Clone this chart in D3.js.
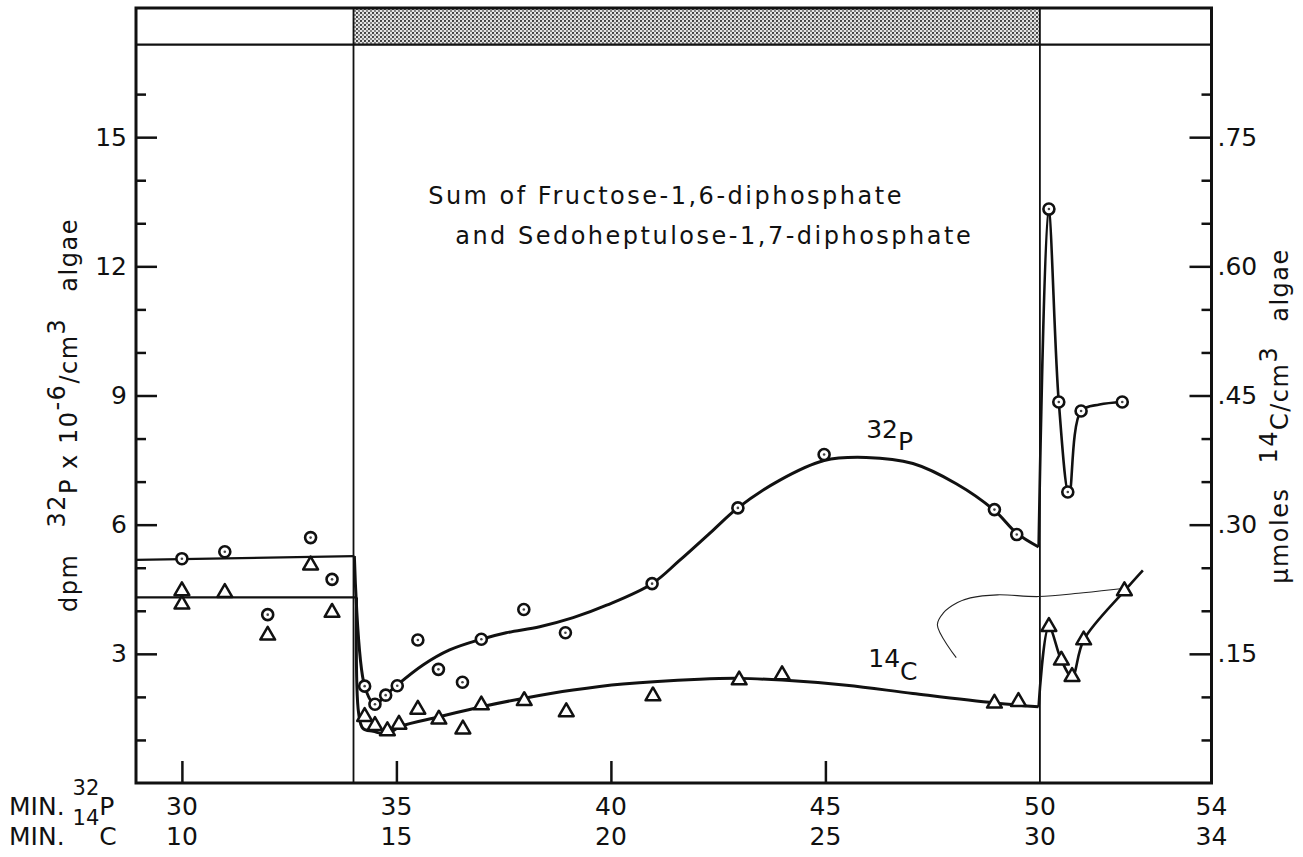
<!doctype html>
<html lang="en">
<head>
<meta charset="utf-8">
<title>Sum of Fructose-1,6-diphosphate and Sedoheptulose-1,7-diphosphate</title>
<script src="https://d3js.org/d3.v7.min.js"></script>
<style>
body { margin: 0; background: #fff; }
svg text { font-family: "DejaVu Sans", sans-serif; fill: #111; }
.tick line { stroke: #111; stroke-width: 2.5; }
.tick text { font-size: 25px; }
</style>
</head>
<body>
<div id="chart"></div>
<script>
// ---- data (time on the 32P clock, minutes) ----
var p32Time  = [30, 31, 32, 33, 33.5, 34.26, 34.5, 34.75, 35.02, 35.5, 35.98, 36.54, 36.98, 37.97, 38.94, 40.96, 42.96, 44.97, 48.94, 49.46, 50.21, 50.44, 50.65, 50.96, 51.92];
var p32Value = [5.21, 5.37, 3.91, 5.70, 4.73, 2.25, 1.83, 2.04, 2.26, 3.32, 2.64, 2.34, 3.34, 4.03, 3.49, 4.63, 6.39, 7.63, 6.35, 5.77, 13.33, 8.85, 6.76, 8.64, 8.85];

var c14Time  = [30, 30, 31, 32, 33, 33.5, 34.26, 34.5, 34.79, 35.06, 35.5, 35.99, 36.55, 36.98, 37.98, 38.96, 40.98, 42.99, 43.99, 48.94, 49.5, 50.21, 50.5, 50.75, 51.02, 51.97];
var c14Value = [4.46, 4.15, 4.42, 3.43, 5.06, 3.96, 1.54, 1.33, 1.21, 1.36, 1.71, 1.48, 1.25, 1.81, 1.91, 1.65, 2.02, 2.39, 2.51, 1.85, 1.89, 3.63, 2.85, 2.47, 3.32, 4.46];

// hand drawn fitted curves (knots)
var p32LightT = [28.93, 34.02];
var p32LightV = [5.18, 5.27];
var p32DarkT  = [34.02, 34.26, 34.5, 34.75, 35.0, 35.62, 36.24, 36.98, 37.56, 38.34, 39.12, 39.9, 40.96, 41.6, 42.38, 42.96, 43.93, 44.97, 45.95, 47.04, 48.05, 48.94, 49.46, 49.97];
var p32DarkV  = [5.27, 2.25, 1.83, 2.04, 2.26, 2.74, 3.09, 3.34, 3.49, 3.63, 3.84, 4.13, 4.63, 5.17, 5.87, 6.39, 7.03, 7.49, 7.56, 7.42, 6.95, 6.33, 5.8, 5.48];
var p32AfterT = [49.97, 50.2, 50.44, 50.68, 50.96, 51.39, 51.92];
var p32AfterV = [5.48, 13.33, 8.85, 6.7, 8.64, 8.79, 8.85];

var c14LightT = [28.93, 34.07];
var c14LightV = [4.31, 4.31];
var c14DarkT  = [34.07, 34.12, 34.22, 34.46, 34.79, 35.08, 36.01, 36.98, 37.98, 39.12, 40.28, 42.07, 42.99, 43.99, 45.49, 47.04, 48.94, 49.97];
var c14DarkV  = [4.31, 1.62, 1.27, 1.2, 1.14, 1.31, 1.54, 1.77, 1.97, 2.16, 2.3, 2.41, 2.43, 2.39, 2.27, 2.08, 1.86, 1.77];
var c14AfterT = [49.97, 50.21, 50.5, 50.75, 51.02, 51.97, 52.4];
var c14AfterV = [1.77, 3.63, 2.85, 2.47, 3.32, 4.46, 4.94];

// stray pen mark on the original
var strayT = [48.05, 47.61, 47.75, 48.08, 48.38, 49.01, 49.97, 51.01, 52.04];
var strayV = [2.91, 3.67, 3.95, 4.19, 4.30, 4.37, 4.33, 4.42, 4.53];

// axes
var darkPeriod = [34, 50];
var minP32 = [30, 35, 40, 45, 50, 54];
var minC14 = [10, 15, 20, 25, 30, 34];
var xTicks = [30, 35, 40, 45];
var leftMajor = [3, 6, 9, 12, 15];
var leftMinor = [1, 2, 4, 5, 7, 8, 10, 11, 13, 14, 16];
var rightMajor = [0.15, 0.30, 0.45, 0.60, 0.75];
var rightMinor = [0.05, 0.10, 0.20, 0.25, 0.35, 0.40, 0.50, 0.55, 0.65, 0.70, 0.80];

var W = 1303, H = 857;
var svg = d3.select("#chart").append("svg")
    .attr("width", W).attr("height", H);

var x = d3.scaleLinear().domain([28.93, 54]).range([136, 1211.5]);
var y = d3.scaleLinear().domain([0, 18]).range([783, 8]);
var yR = d3.scaleLinear().domain([0, 0.9]).range([783, 8]);
var bandBottom = 17.15;

// stipple pattern for the dark period
var defs = svg.append("defs");
var pat = defs.append("pattern").attr("id", "stip")
    .attr("width", 4).attr("height", 4).attr("patternUnits", "userSpaceOnUse");
pat.append("rect").attr("width", 4).attr("height", 4).attr("fill", "#e4e4e4");
pat.append("circle").attr("cx", 1).attr("cy", 1).attr("r", 1.1).attr("fill", "#333");
pat.append("circle").attr("cx", 3).attr("cy", 3).attr("r", 0.9).attr("fill", "#555");

svg.append("rect")
    .attr("x", x(darkPeriod[0])).attr("y", y(18))
    .attr("width", x(darkPeriod[1]) - x(darkPeriod[0]))
    .attr("height", y(bandBottom) - y(18))
    .attr("fill", "url(#stip)");

// frame
svg.append("rect")
    .attr("x", x(28.93)).attr("y", y(18))
    .attr("width", x(54) - x(28.93)).attr("height", y(0) - y(18))
    .attr("fill", "none").attr("stroke", "#111").attr("stroke-width", 3);
svg.append("line")
    .attr("x1", x(28.93)).attr("x2", x(54))
    .attr("y1", y(bandBottom)).attr("y2", y(bandBottom))
    .attr("stroke", "#111").attr("stroke-width", 2.2);
svg.selectAll(".period").data(darkPeriod).enter().append("line")
    .attr("class", "period")
    .attr("x1", function(d) { return x(d); }).attr("x2", function(d) { return x(d); })
    .attr("y1", y(18)).attr("y2", y(0))
    .attr("stroke", "#111").attr("stroke-width", 1.8);

// left axis (ticks pointing inward)
svg.append("g").attr("transform", "translate(" + x(28.93) + ",0)")
    .call(d3.axisLeft(y).tickValues(leftMajor).tickSizeInner(-21).tickSizeOuter(0).tickPadding(9))
    .call(function(g) { g.select(".domain").remove(); });
svg.append("g").attr("transform", "translate(" + x(28.93) + ",0)")
    .call(d3.axisLeft(y).tickValues(leftMinor).tickSizeInner(-10).tickSizeOuter(0).tickFormat(""))
    .call(function(g) { g.select(".domain").remove(); });

// right axis
svg.append("g").attr("transform", "translate(" + x(54) + ",0)")
    .call(d3.axisRight(yR).tickValues(rightMajor).tickSizeInner(-22).tickSizeOuter(0).tickPadding(6)
        .tickFormat(function(d) { return d3.format(".2f")(d).replace(/^0/, ""); }))
    .call(function(g) { g.select(".domain").remove(); });
svg.append("g").attr("transform", "translate(" + x(54) + ",0)")
    .call(d3.axisRight(yR).tickValues(rightMinor).tickSizeInner(-10).tickSizeOuter(0).tickFormat(""))
    .call(function(g) { g.select(".domain").remove(); });

// bottom ticks pointing up
svg.append("g").attr("transform", "translate(0," + y(0) + ")")
    .call(d3.axisTop(x).tickValues(xTicks).tickSizeInner(22).tickSizeOuter(0).tickFormat(""))
    .call(function(g) { g.select(".domain").remove(); });

// bottom labels: two clocks
var bl = svg.append("g").attr("font-size", 25);
bl.selectAll(".lp").data(minP32).enter().append("text")
    .attr("x", function(d) { return x(d); }).attr("y", y(0) + 32)
    .attr("text-anchor", "middle").text(function(d) { return d; });
bl.selectAll(".lc").data(minC14).enter().append("text")
    .attr("x", function(d, i) { return x(minP32[i]); }).attr("y", y(0) + 62)
    .attr("text-anchor", "middle").text(function(d) { return d; });

var r1 = bl.append("text").attr("x", 9).attr("y", y(0) + 32);
r1.append("tspan").text("MIN. ");
r1.append("tspan").attr("dy", -20).attr("font-size", 21).text("32");
r1.append("tspan").attr("dy", 20).text("P");
var r2 = bl.append("text").attr("x", 9).attr("y", y(0) + 62);
r2.append("tspan").text("MIN. ");
r2.append("tspan").attr("dy", -20).attr("font-size", 21).text("14");
r2.append("tspan").attr("dy", 20).text("C");

// axis titles
var lt = svg.append("text")
    .attr("transform", "translate(77," + 415 + ") rotate(-90)")
    .attr("text-anchor", "middle").attr("font-size", 24).attr("letter-spacing", 1.5);
lt.append("tspan").text("dpm");
lt.append("tspan").attr("dx", 26).attr("dy", -12).text("32");
lt.append("tspan").attr("dy", 12).text("P x 10");
lt.append("tspan").attr("dy", -12).text("-6");
lt.append("tspan").attr("dy", 12).text("/cm");
lt.append("tspan").attr("dy", -12).text("3");
lt.append("tspan").attr("dx", 26).attr("dy", 12).text("algae");

var rt = svg.append("text")
    .attr("transform", "translate(1288," + 416 + ") rotate(-90)")
    .attr("text-anchor", "middle").attr("font-size", 24).attr("letter-spacing", 1.5);
rt.append("tspan").text("\u03BCmoles");
rt.append("tspan").attr("dx", 24).attr("dy", -11).text("14");
rt.append("tspan").attr("dy", 11).text("C/cm");
rt.append("tspan").attr("dy", -11).text("3");
rt.append("tspan").attr("dx", 24).attr("dy", 11).text("algae");

// title inside the plot
var title = svg.append("g").attr("font-size", 24).attr("letter-spacing", 2.5);
title.append("text").attr("x", x(35.74)).attr("y", y(13.44)).text("Sum of Fructose-1,6-diphosphate");
title.append("text").attr("x", x(36.37)).attr("y", y(12.51)).text("and Sedoheptulose-1,7-diphosphate");

// series labels
var l32 = svg.append("text").attr("x", x(45.95)).attr("y", y(8.02)).attr("font-size", 25);
l32.append("tspan").text("32");
l32.append("tspan").attr("dy", 12).text("P");
var l14 = svg.append("text").attr("x", x(46.0)).attr("y", y(2.70)).attr("font-size", 25);
l14.append("tspan").text("14");
l14.append("tspan").attr("dy", 13).text("C");

// curves
function pts(ts, vs) { return ts.map(function(t, i) { return [t, vs[i]]; }); }
var smooth = d3.line().x(function(d) { return x(d[0]); }).y(function(d) { return y(d[1]); })
    .curve(d3.curveCatmullRom.alpha(0.5));
var straight = d3.line().x(function(d) { return x(d[0]); }).y(function(d) { return y(d[1]); });

svg.append("path").attr("d", smooth(pts(strayT, strayV)))
    .attr("fill", "none").attr("stroke", "#222").attr("stroke-width", 1.1);

[[p32LightT, p32LightV, straight, 2.2], [c14LightT, c14LightV, straight, 2.2],
 [p32DarkT, p32DarkV, smooth, 3], [c14DarkT, c14DarkV, smooth, 3],
 [p32AfterT, p32AfterV, smooth, 2.6], [c14AfterT, c14AfterV, smooth, 2.6]].forEach(function(c) {
    svg.append("path").attr("d", c[2](pts(c[0], c[1])))
        .attr("fill", "none").attr("stroke", "#111")
        .attr("stroke-width", c[3]).attr("stroke-linejoin", "round");
});

// markers
svg.selectAll(".pc").data(pts(p32Time, p32Value)).enter().append("circle")
    .attr("class", "pc")
    .attr("cx", function(d) { return x(d[0]); }).attr("cy", function(d) { return y(d[1]); })
    .attr("r", 5.5).attr("fill", "#fff").attr("stroke", "#111").attr("stroke-width", 2.6);
svg.selectAll(".pd").data(pts(p32Time, p32Value)).enter().append("circle")
    .attr("cx", function(d) { return x(d[0]); }).attr("cy", function(d) { return y(d[1]); })
    .attr("r", 1.3).attr("fill", "#444");

var tri = d3.symbol().type(d3.symbolTriangle).size(95);
svg.selectAll(".ct").data(pts(c14Time, c14Value)).enter().append("path")
    .attr("class", "ct")
    .attr("transform", function(d) { return "translate(" + x(d[0]) + "," + y(d[1]) + ")"; })
    .attr("d", tri).attr("fill", "#fff").attr("stroke", "#111").attr("stroke-width", 2.5)
    .attr("stroke-linejoin", "round");
</script>
</body>
</html>
